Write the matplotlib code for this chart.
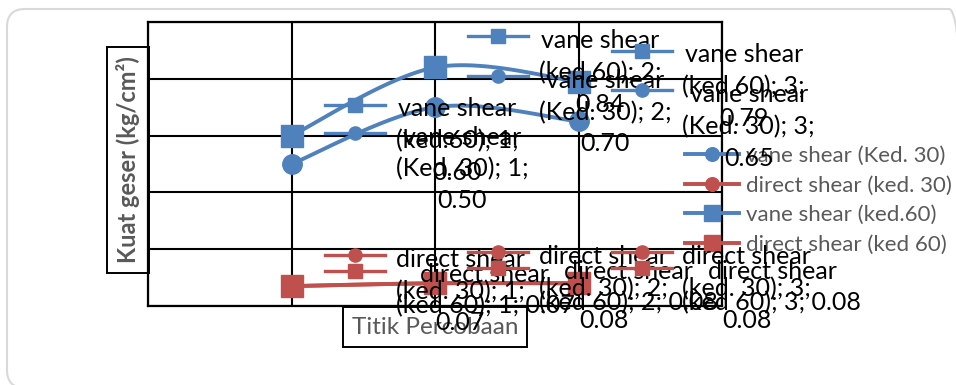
import numpy as np
import matplotlib
matplotlib.use('Agg')
import matplotlib.pyplot as plt
import matplotlib.transforms as mtransforms
from matplotlib.lines import Line2D
from matplotlib.patches import FancyBboxPatch

# Fiddle with figure settings here:
plt.rcParams['font.family'] = ['Lato', 'DejaVu Sans']
plt.rcParams['axes.linewidth'] = 1.6
plt.rcParams['savefig.bbox'] = None

# Data
titik = [1, 2, 3]
vane_30 = [0.50, 0.70, 0.65]
direct_30 = [0.07, 0.08, 0.08]
vane_60 = [0.60, 0.84, 0.79]
direct_60 = [0.07, 0.08, 0.08]

series_names = ['vane shear (Ked. 30)', 'direct shear (ked. 30)',
                'vane shear (ked.60)', 'direct shear (ked 60)']
# excel wrapped the data labels like this
label_fmt = ['vane shear\n(Ked. 30); {x};\n{y:.2f}',
             'direct shear\n(ked. 30); {x};\n{y:.2f}',
             'vane shear\n(ked.60); {x};\n{y:.2f}',
             'direct shear\n(ked 60); {x}; {y:.2f}']

blue = '#4F81BD'
red = '#C0504D'
gray = '#595959'
colors = [blue, red, blue, red]
markers = ['o', 'o', 's', 's']
msizes = [14, 14, 16, 16]


def smooth(xs, ys, n=40):
    # excel style smoothed line (bezier through the points)
    p = np.column_stack([xs, ys]).astype(float)
    ext = np.vstack([p[0], p, p[-1]])
    t = np.linspace(0, 1, n)[1:, None]
    out = [p[:1]]
    for i in range(len(p) - 1):
        p0, p3 = ext[i + 1], ext[i + 2]
        c1 = p0 + (ext[i + 2] - ext[i]) / 6
        c2 = p3 - (ext[i + 3] - ext[i + 1]) / 6
        out.append((1 - t)**3 * p0 + 3 * (1 - t)**2 * t * c1
                   + 3 * (1 - t) * t**2 * c2 + t**3 * p3)
    return np.vstack(out), [k * (n - 1) for k in range(len(p))]


W, H = 956, 385
fig = plt.figure(figsize=(W / 100, H / 100), dpi=100)
ax = fig.add_axes([148 / W, 1 - 306 / H, 574 / W, 284 / H])

# outer rounded frame (in inches, runs off the right and bottom edge)
frame = FancyBboxPatch((0.07, -0.03), 9.6, 3.79, boxstyle='round,pad=0,rounding_size=0.18',
                       transform=fig.dpi_scale_trans,
                       fc='none', ec='#D9D9D9', lw=1.5, zorder=-1)
fig.patches.append(frame)

ax.set_xlim(0, 4)
ax.set_ylim(0, 1.0)
ax.set_xticks(np.arange(0, 5, 1))
ax.set_yticks(np.arange(0, 1.01, 0.2))
ax.grid(True, color='black', lw=1.5)
ax.tick_params(length=0, labelbottom=False, labelleft=False)
for s in ax.spines.values():
    s.set_color('black')

handles = []
all_series = [vane_30, direct_30, vane_60, direct_60]
for k, ys in enumerate(all_series):
    curve, idx = smooth(titik, ys)
    ln, = ax.plot(curve[:, 0], curve[:, 1], color=colors[k], lw=2.8,
                  marker=markers[k], markevery=idx, ms=msizes[k],
                  mec=colors[k], mfc=colors[k], label=series_names[k],
                  zorder=3 + k, clip_on=False)
    handles.append(ln)

# data labels with legend key (as excel draws them)
pitch = 31
for k, ys in enumerate(all_series):
    for x, y in zip(titik, ys):
        txt = label_fmt[k].format(x=x, y=y)
        n = txt.count('\n') + 1
        ky = (n - 1) / 2 * pitch
        tr = mtransforms.Affine2D() + mtransforms.ScaledTranslation(x, y, ax.transData)
        key = Line2D([33, 63, 93], [ky, ky, ky], transform=tr, color=colors[k],
                     lw=2.4, marker=markers[k], markevery=[1], ms=9.5,
                     mec=colors[k], mfc=colors[k], clip_on=False, zorder=10 + k)
        ax.add_line(key)
        dy = -5 if n == 3 else -4
        ax.annotate(txt, xy=(x, y), xytext=(104, dy), textcoords='offset pixels',
                    ha='left', va='center', multialignment='center',
                    fontsize=18, linespacing=1.45, color='black',
                    annotation_clip=False, zorder=10 + k)

ax.set_ylabel('Kuat geser (kg/cm²)', fontsize=17, fontweight='bold', color=gray,
              va='center',
              bbox=dict(boxstyle='square,pad=0.4', fc='white', ec='black', lw=1.4))
ax.yaxis.set_label_coords(-20 / 574, (306 - 160) / 284)
ax.set_xlabel('Titik Percobaan', fontsize=17.5, color=gray, va='center',
              bbox=dict(boxstyle='square,pad=0.38', fc='white', ec='black', lw=1.4))
ax.xaxis.set_label_coords(0.5, -21 / 284)

leg = ax.legend(handles=handles, loc='upper left', bbox_to_anchor=(685 / W, 1 - 146 / H),
                bbox_transform=fig.transFigure, frameon=False, fontsize=16,
                handlelength=2.45, handletextpad=0.3, labelspacing=0.43,
                borderpad=0, borderaxespad=0, markerscale=0.7, labelcolor=gray)
leg.set_zorder(5)

plt.savefig('out.png', dpi=100, bbox_inches=None)
